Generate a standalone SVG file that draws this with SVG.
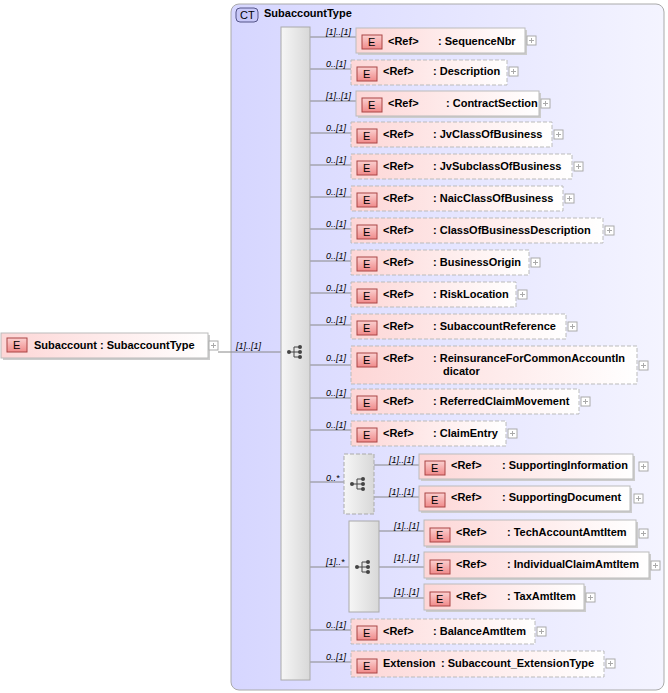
<svg xmlns="http://www.w3.org/2000/svg" width="668" height="693" viewBox="0 0 668 693">
<defs>
<linearGradient id="el" x1="0" y1="0" x2="1" y2="0"><stop offset="0" stop-color="#fdd6d6"/><stop offset="1" stop-color="#ffffff"/></linearGradient>
<linearGradient id="badge" x1="0" y1="0" x2="0" y2="1"><stop offset="0" stop-color="#fbd0d0"/><stop offset="1" stop-color="#f08a8a"/></linearGradient>
<linearGradient id="ct" x1="0" y1="0" x2="1" y2="0"><stop offset="0" stop-color="#d6d6ff"/><stop offset="1" stop-color="#f4f4ff"/></linearGradient>
<linearGradient id="seq" x1="0" y1="0" x2="1" y2="0"><stop offset="0" stop-color="#f6f6f6"/><stop offset="1" stop-color="#d8d8d8"/></linearGradient>
<g id="seqicon"><circle cx="-7" cy="0" r="2" fill="#444"/><path d="M-7 0H-2M-2 -5V5M-2 -5H3M-2 0H3M-2 5H3" stroke="#444" fill="none"/><circle cx="4" cy="-5" r="2" fill="#444"/><circle cx="4" cy="0" r="2" fill="#444"/><circle cx="4" cy="5" r="2" fill="#444"/></g>
<g id="plus"><rect x="0" y="0" width="9" height="9" fill="#fff" stroke="#aaa"/><path d="M2 4.5H7M4.5 2V7" stroke="#aaa"/></g>
</defs>
<style>
text{font-family:"Liberation Sans",Arial,sans-serif;font-size:11px;fill:#000}
.b{font-weight:bold}
.m{font-style:italic;font-size:9px}
.box{fill:url(#el);stroke:#bbb}
.opt{stroke-dasharray:4,2}
.sh{fill:#ccc}
.bd{fill:url(#badge);stroke:#a44}
.c{stroke:#888;fill:none}
</style>
<g id="ct-SubaccountType">
<rect x="231" y="4" width="433" height="686" rx="8" fill="url(#ct)" stroke="#aaa"/>
<rect x="236" y="8" width="22" height="14" rx="4" fill="#c8c8f8" stroke="#558"/>
<text x="240" y="19">CT</text>
<text x="264" y="17" class="b">SubaccountType</text>
</g>
<g id="connectors">
<path class="c" d="M218 352H281"/>
<path class="c" d="M310 37H356M310 69H351M310 101H356M310 133H351M310 165H351M310 197H351M310 229H351M310 261H351M310 293H351M310 325H351M310 365H351M310 398H351M310 430H351M310 482H344M310 567H349M310 630H351M310 662H351"/>
<path class="c" d="M374 465H419M374 497H419M379 531H424M379 567H424M379 598H424"/>
</g>
<g class="m">
<text class="m" x="236" y="349">[1]..[1]</text>
<text class="m" x="326" y="35">[1]..[1]</text>
<text class="m" x="326" y="67">0..[1]</text>
<text class="m" x="326" y="99">[1]..[1]</text>
<text class="m" x="326" y="131">0..[1]</text>
<text class="m" x="326" y="163">0..[1]</text>
<text class="m" x="326" y="195">0..[1]</text>
<text class="m" x="326" y="227">0..[1]</text>
<text class="m" x="326" y="259">0..[1]</text>
<text class="m" x="326" y="291">0..[1]</text>
<text class="m" x="326" y="323">0..[1]</text>
<text class="m" x="326" y="361">0..[1]</text>
<text class="m" x="326" y="396">0..[1]</text>
<text class="m" x="326" y="428">0..[1]</text>
<text class="m" x="326" y="481">0..*</text>
<text class="m" x="326" y="565">[1]..*</text>
<text class="m" x="326" y="628">0..[1]</text>
<text class="m" x="326" y="660">0..[1]</text>
<text class="m" x="389" y="463">[1]..[1]</text>
<text class="m" x="389" y="495">[1]..[1]</text>
<text class="m" x="394" y="529">[1]..[1]</text>
<text class="m" x="394" y="561">[1]..[1]</text>
<text class="m" x="394" y="595">[1]..[1]</text>
</g>
<g id="seq-main">
<rect x="281" y="27" width="29" height="653" fill="url(#seq)" stroke="#aaa"/>
<use href="#seqicon" x="296" y="352"/>
</g>
<g id="choice">
<rect x="344" y="454" width="30" height="60" fill="url(#seq)" stroke="#aaa" class="opt"/>
<use href="#seqicon" x="359" y="484"/>
</g>
<g id="seq2">
<rect x="349" y="521" width="30" height="91" fill="url(#seq)" stroke="#aaa"/>
<use href="#seqicon" x="364" y="567"/>
</g>
<g id="Subaccount">
<rect x="3" y="335" width="207" height="25" class="sh"/>
<rect x="1" y="333" width="207" height="25" class="box"/>
<rect x="7" y="338" width="20" height="14" class="bd"/><text x="13" y="349">E</text>
<text x="34" y="349" class="b">Subaccount : SubaccountType</text>
<use href="#plus" x="209" y="341"/>
</g>
<g id="SequenceNbr"><rect x="358" y="30" width="169" height="25" class="sh"/><rect x="356" y="28" width="169" height="25" class="box"/><rect x="362" y="35" width="20" height="14" class="bd"/><text x="368" y="46">E</text><text x="388" y="45" class="b">&lt;Ref&gt;</text><text x="438" y="45" class="b">: SequenceNbr</text><use href="#plus" x="527" y="36"/></g>
<g id="Description"><rect x="351" y="60" width="156" height="25" class="box opt"/><rect x="357" y="67" width="20" height="14" class="bd"/><text x="363" y="78">E</text><text x="383" y="75" class="b">&lt;Ref&gt;</text><text x="433" y="75" class="b">: Description</text><use href="#plus" x="509" y="67"/></g>
<g id="ContractSection"><rect x="358" y="93" width="183" height="25" class="sh"/><rect x="356" y="91" width="183" height="25" class="box"/><rect x="362" y="98" width="20" height="14" class="bd"/><text x="368" y="109">E</text><text x="388" y="107" class="b">&lt;Ref&gt;</text><text x="446" y="107" class="b">: ContractSection</text><use href="#plus" x="541" y="99"/></g>
<g id="JvClassOfBusiness"><rect x="351" y="122" width="201" height="25" class="box opt"/><rect x="357" y="129" width="20" height="14" class="bd"/><text x="363" y="140">E</text><text x="383" y="138" class="b">&lt;Ref&gt;</text><text x="433" y="138" class="b">: JvClassOfBusiness</text><use href="#plus" x="554" y="130"/></g>
<g id="JvSubclassOfBusiness"><rect x="351" y="154" width="221" height="25" class="box opt"/><rect x="357" y="161" width="20" height="14" class="bd"/><text x="363" y="172">E</text><text x="383" y="170" class="b">&lt;Ref&gt;</text><text x="433" y="170" class="b">: JvSubclassOfBusiness</text><use href="#plus" x="574" y="162"/></g>
<g id="NaicClassOfBusiness"><rect x="351" y="186" width="212" height="25" class="box opt"/><rect x="357" y="193" width="20" height="14" class="bd"/><text x="363" y="204">E</text><text x="383" y="202" class="b">&lt;Ref&gt;</text><text x="433" y="202" class="b">: NaicClassOfBusiness</text><use href="#plus" x="565" y="194"/></g>
<g id="ClassOfBusinessDescription"><rect x="351" y="218" width="252" height="25" class="box opt"/><rect x="357" y="225" width="20" height="14" class="bd"/><text x="363" y="236">E</text><text x="383" y="234" class="b">&lt;Ref&gt;</text><text x="433" y="234" class="b">: ClassOfBusinessDescription</text><use href="#plus" x="605" y="226"/></g>
<g id="BusinessOrigin"><rect x="351" y="250" width="178" height="25" class="box opt"/><rect x="357" y="257" width="20" height="14" class="bd"/><text x="363" y="268">E</text><text x="383" y="266" class="b">&lt;Ref&gt;</text><text x="433" y="266" class="b">: BusinessOrigin</text><use href="#plus" x="531" y="258"/></g>
<g id="RiskLocation"><rect x="351" y="282" width="165" height="25" class="box opt"/><rect x="357" y="289" width="20" height="14" class="bd"/><text x="363" y="300">E</text><text x="383" y="298" class="b">&lt;Ref&gt;</text><text x="433" y="298" class="b">: RiskLocation</text><use href="#plus" x="518" y="290"/></g>
<g id="SubaccountReference"><rect x="351" y="314" width="215" height="25" class="box opt"/><rect x="357" y="321" width="20" height="14" class="bd"/><text x="363" y="332">E</text><text x="383" y="330" class="b">&lt;Ref&gt;</text><text x="433" y="330" class="b">: SubaccountReference</text><use href="#plus" x="568" y="322"/></g>
<g id="ReinsuranceForCommonAccountIndicator"><rect x="351" y="346" width="286" height="38" class="box opt"/><rect x="357" y="353" width="20" height="14" class="bd"/><text x="363" y="364">E</text><text x="383" y="362" class="b">&lt;Ref&gt;</text><text x="433" y="362" class="b">: ReinsuranceForCommonAccountIn</text><text x="443" y="375" class="b">dicator</text><use href="#plus" x="639" y="361"/></g>
<g id="ReferredClaimMovement"><rect x="351" y="389" width="228" height="25" class="box opt"/><rect x="357" y="396" width="20" height="14" class="bd"/><text x="363" y="407">E</text><text x="383" y="405" class="b">&lt;Ref&gt;</text><text x="433" y="405" class="b">: ReferredClaimMovement</text><use href="#plus" x="581" y="397"/></g>
<g id="ClaimEntry"><rect x="351" y="421" width="155" height="25" class="box opt"/><rect x="357" y="428" width="20" height="14" class="bd"/><text x="363" y="439">E</text><text x="383" y="437" class="b">&lt;Ref&gt;</text><text x="433" y="437" class="b">: ClaimEntry</text><use href="#plus" x="508" y="429"/></g>
<g id="SupportingInformation"><rect x="421" y="456" width="214" height="25" class="sh"/><rect x="419" y="454" width="214" height="25" class="box"/><rect x="425" y="461" width="20" height="14" class="bd"/><text x="431" y="472">E</text><text x="451" y="469" class="b">&lt;Ref&gt;</text><text x="502" y="469" class="b">: SupportingInformation</text><use href="#plus" x="639" y="462"/></g>
<g id="SupportingDocument"><rect x="421" y="488" width="211" height="25" class="sh"/><rect x="419" y="486" width="211" height="25" class="box"/><rect x="425" y="493" width="20" height="14" class="bd"/><text x="431" y="504">E</text><text x="451" y="501" class="b">&lt;Ref&gt;</text><text x="502" y="501" class="b">: SupportingDocument</text><use href="#plus" x="634" y="494"/></g>
<g id="TechAccountAmtItem"><rect x="426" y="522" width="212" height="26" class="sh"/><rect x="424" y="520" width="212" height="26" class="box"/><rect x="430" y="528" width="20" height="14" class="bd"/><text x="436" y="539">E</text><text x="456" y="536" class="b">&lt;Ref&gt;</text><text x="507" y="536" class="b">: TechAccountAmtItem</text><use href="#plus" x="639" y="529"/></g>
<g id="IndividualClaimAmtItem"><rect x="426" y="554" width="225" height="26" class="sh"/><rect x="424" y="552" width="225" height="26" class="box"/><rect x="430" y="560" width="20" height="14" class="bd"/><text x="436" y="571">E</text><text x="456" y="568" class="b">&lt;Ref&gt;</text><text x="507" y="568" class="b">: IndividualClaimAmtItem</text><use href="#plus" x="651" y="561"/></g>
<g id="TaxAmtItem"><rect x="426" y="586" width="160" height="26" class="sh"/><rect x="424" y="584" width="160" height="26" class="box"/><rect x="430" y="592" width="20" height="14" class="bd"/><text x="436" y="603">E</text><text x="456" y="600" class="b">&lt;Ref&gt;</text><text x="507" y="600" class="b">: TaxAmtItem</text><use href="#plus" x="586" y="593"/></g>
<g id="BalanceAmtItem"><rect x="351" y="619" width="184" height="25" class="box opt"/><rect x="357" y="626" width="20" height="14" class="bd"/><text x="363" y="637">E</text><text x="383" y="635" class="b">&lt;Ref&gt;</text><text x="433" y="635" class="b">: BalanceAmtItem</text><use href="#plus" x="537" y="627"/></g>
<g id="Extension"><rect x="351" y="651" width="253" height="26" class="box opt"/><rect x="357" y="659" width="20" height="14" class="bd"/><text x="363" y="670">E</text><text x="383" y="667" class="b">Extension</text><text x="441" y="667" class="b">: Subaccount_ExtensionType</text><use href="#plus" x="606" y="659"/></g>
</svg>
